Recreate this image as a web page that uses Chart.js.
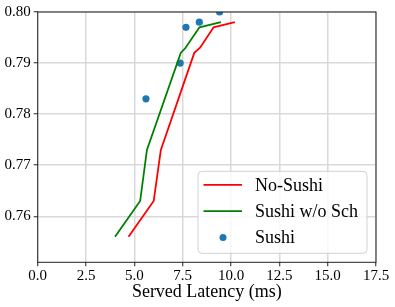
<!DOCTYPE html>
<html>
<head>
<meta charset="utf-8">
<script src="https://cdn.jsdelivr.net/npm/chart.js@4"></script>
<style>
  body { margin: 0; background: #fff; }
  #box { width: 395px; height: 307px; }
</style>
</head>
<body>
<div id="box"><canvas id="myChart"></canvas></div>
<script>
// data
const noSushiX = [4.7, 6.0, 6.37, 8.1, 8.4, 9.1, 10.2];
const noSushiY = [0.756, 0.763, 0.773, 0.792, 0.793, 0.797, 0.798];
const noSchX = [4.0, 5.3, 5.65, 7.4, 7.65, 8.37, 9.48];
const noSchY = [0.756, 0.763, 0.773, 0.792, 0.793, 0.797, 0.798];
const sushiX = [5.6, 7.37, 7.67, 8.36, 9.41];
const sushiY = [0.783, 0.790, 0.797, 0.798, 0.800];
const xTicks = [0, 2.5, 5, 7.5, 10, 12.5, 15, 17.5];
const yTicks = [0.76, 0.77, 0.78, 0.79, 0.80];
const seriesNames = ['No-Sushi', 'Sushi w/o Sch', 'Sushi'];
const xTitle = 'Served Latency (ms)';

const serif = "'Liberation Serif', 'Times New Roman', serif";

function pts(xs, ys) {
    return xs.map((x, i) => ({ x: x, y: ys[i] }));
}

// frame + legend inside the plot (matplotlib style)
const framePlugin = {
    id: 'frame',
    afterDatasetsDraw(chart) {
        const ctx = chart.ctx;
        const a = chart.chartArea;
        ctx.save();
        ctx.strokeStyle = '#222';
        ctx.lineWidth = 1;
        ctx.strokeRect(a.left, a.top, a.right - a.left, a.bottom - a.top);

        // legend box
        const w = 169, h = 82;
        const bx = a.right - 9 - w;
        const by = a.bottom - 9 - h;
        ctx.beginPath();
        ctx.roundRect(bx, by, w, h, 4);
        ctx.fillStyle = 'rgba(255,255,255,0.8)';
        ctx.fill();
        ctx.strokeStyle = 'rgba(204,204,204,0.9)';
        ctx.lineWidth = 1;
        ctx.stroke();

        const ds = chart.data.datasets;
        ctx.font = "18px " + serif;
        ctx.textBaseline = 'middle';
        ctx.textAlign = 'left';
        for (let i = 0; i < ds.length; i++) {
            const yy = by + 13.5 + i * 26.3;
            if (ds[i].showLine) {
                ctx.beginPath();
                ctx.moveTo(bx + 5.5, yy);
                ctx.lineTo(bx + 44, yy);
                ctx.strokeStyle = ds[i].borderColor;
                ctx.lineWidth = 1.8;
                ctx.stroke();
            } else {
                ctx.beginPath();
                ctx.arc(bx + 25, yy, 3.5, 0, Math.PI * 2);
                ctx.fillStyle = ds[i].backgroundColor;
                ctx.fill();
            }
            ctx.fillStyle = '#000';
            ctx.fillText(seriesNames[i], bx + 57, yy + 1);
        }
        ctx.restore();
    }
};

new Chart(document.getElementById('myChart'), {
    type: 'scatter',
    data: {
        datasets: [{
            label: seriesNames[0],
            data: pts(noSushiX, noSushiY),
            showLine: true,
            borderColor: '#ff0000',
            backgroundColor: '#ff0000',
            borderWidth: 1.8,
            pointRadius: 0,
            clip: 0
        }, {
            label: seriesNames[1],
            data: pts(noSchX, noSchY),
            showLine: true,
            borderColor: '#008000',
            backgroundColor: '#008000',
            borderWidth: 1.8,
            pointRadius: 0,
            clip: 0
        }, {
            label: seriesNames[2],
            data: pts(sushiX, sushiY),
            showLine: false,
            borderColor: '#1f77b4',
            backgroundColor: '#1f77b4',
            borderWidth: 0,
            pointRadius: 3.6,
            clip: 0
        }]
    },
    options: {
        responsive: true,
        maintainAspectRatio: false,
        animation: false,
        layout: { padding: { left: 0, right: 19, top: 10.5, bottom: 0 } },
        plugins: {
            legend: { display: false },
            tooltip: { enabled: false }
        },
        scales: {
            x: {
                type: 'linear',
                min: 0,
                max: 17.5,
                afterBuildTicks: (s) => { s.ticks = xTicks.map(v => ({ value: v })); },
                afterFit: (s) => { s.height = 44.7; },
                ticks: {
                    color: '#000',
                    font: { family: serif, size: 15 },
                    padding: 1,
                    maxRotation: 0,
                    autoSkip: false,
                    callback: (v) => Number(v).toFixed(1)
                },
                grid: { color: '#d9d9d9', lineWidth: 1.5, tickColor: '#222', tickLength: 4, tickWidth: 1 },
                border: { display: false },
                title: {
                    display: true,
                    text: xTitle,
                    color: '#000',
                    font: { family: serif, size: 18 },
                    padding: { top: 0, bottom: 4 }
                }
            },
            y: {
                type: 'linear',
                min: 0.751,
                max: 0.80,
                afterBuildTicks: (s) => { s.ticks = yTicks.map(v => ({ value: v })); },
                afterFit: (s) => { s.width = 37.7; },
                ticks: {
                    color: '#000',
                    font: { family: serif, size: 15 },
                    padding: 3,
                    callback: (v) => Number(v).toFixed(2)
                },
                grid: { color: '#d9d9d9', lineWidth: 1.5, tickColor: '#222', tickLength: 4, tickWidth: 1 },
                border: { display: false }
            }
        }
    },
    plugins: [framePlugin]
});
</script>
</body>
</html>
